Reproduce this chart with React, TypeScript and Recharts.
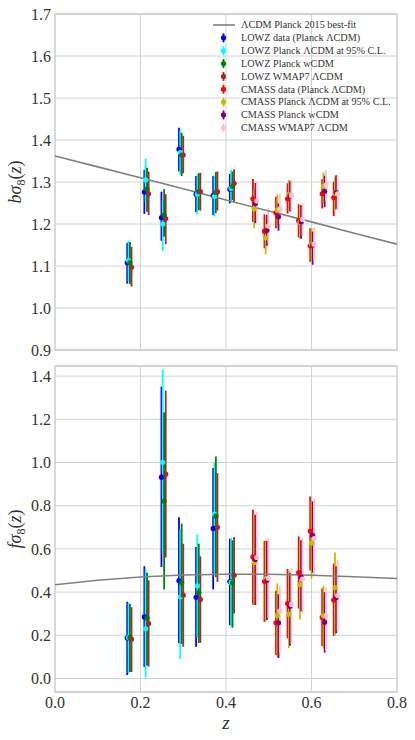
import React from "react";
import {
  ScatterChart,
  Scatter,
  XAxis,
  YAxis,
  CartesianGrid,
  ErrorBar,
  ReferenceArea,
  ReferenceLine,
} from "recharts";

const FONT = "Liberation Serif, Times New Roman, serif";
const GRID = "#d4d4d4";
const TEXT = "#333333";

const X_TICKS = [0, 0.2, 0.4, 0.6, 0.8];
const TOP_TICKS = [0.9, 1.0, 1.1, 1.2, 1.3, 1.4, 1.5, 1.6, 1.7];
const BOTTOM_TICKS = [0, 0.2, 0.4, 0.6, 0.8, 1.0, 1.2, 1.4];
const TOP_DOMAIN = [0.9, 1.7];
const BOTTOM_DOMAIN = [-0.0625, 1.447];

// Planck 2015 best-fit curves
const MODEL_Z = [0, 0.1, 0.2, 0.3, 0.4, 0.5, 0.6, 0.7, 0.8];
const MODEL_BS8 = [1.362, 1.336, 1.31, 1.284, 1.257, 1.231, 1.205, 1.178, 1.152];
const MODEL_FS8 = [0.434, 0.455, 0.47, 0.479, 0.483, 0.483, 0.478, 0.471, 0.463];

// redshift of each bin (first series of each sample)
const LOWZ_Z = [0.169, 0.209, 0.249, 0.29, 0.33, 0.37, 0.409];
const CMASS_Z = [0.463, 0.49, 0.517, 0.544, 0.57, 0.597, 0.625, 0.652];

// [value, lower, upper]
const LOWZ_DATA_B = [[1.108, 1.058, 1.155], [1.276, 1.224, 1.329], [1.215, 1.16, 1.277], [1.378, 1.325, 1.429], [1.271, 1.228, 1.314], [1.268, 1.221, 1.314], [1.283, 1.249, 1.319]];
const LOWZ_L95_B = [[1.113, 1.063, 1.16], [1.305, 1.253, 1.356], [1.2, 1.136, 1.257], [1.37, 1.318, 1.423], [1.271, 1.223, 1.318], [1.266, 1.218, 1.316], [1.285, 1.253, 1.329]];
const LOWZ_WCDM_B = [[1.108, 1.057, 1.157], [1.283, 1.229, 1.334], [1.221, 1.17, 1.283], [1.364, 1.314, 1.417], [1.277, 1.233, 1.321], [1.275, 1.226, 1.324], [1.289, 1.257, 1.325]];
const LOWZ_WMAP_B = [[1.097, 1.051, 1.146], [1.272, 1.221, 1.325], [1.213, 1.152, 1.271], [1.364, 1.321, 1.41], [1.277, 1.232, 1.322], [1.277, 1.232, 1.325], [1.297, 1.253, 1.33]];

const CMASS_DATA_B = [[1.26, 1.205, 1.307], [1.183, 1.142, 1.223], [1.227, 1.19, 1.265], [1.26, 1.225, 1.297], [1.208, 1.168, 1.247], [1.148, 1.11, 1.19], [1.272, 1.237, 1.307], [1.263, 1.219, 1.301]];
const CMASS_L95_B = [[1.236, 1.19, 1.283], [1.167, 1.128, 1.21], [1.233, 1.195, 1.27], [1.27, 1.233, 1.305], [1.204, 1.166, 1.245], [1.151, 1.113, 1.19], [1.289, 1.249, 1.323], [1.273, 1.232, 1.313]];
const CMASS_WCDM_B = [[1.249, 1.202, 1.298], [1.185, 1.148, 1.222], [1.217, 1.184, 1.249], [1.267, 1.23, 1.302], [1.205, 1.165, 1.245], [1.15, 1.103, 1.182], [1.278, 1.24, 1.315], [1.275, 1.236, 1.316]];
const CMASS_WMAP_B = [[1.255, 1.208, 1.3], [1.195, 1.155, 1.238], [1.236, 1.2, 1.272], [1.268, 1.23, 1.305], [1.211, 1.172, 1.25], [1.152, 1.112, 1.192], [1.293, 1.255, 1.328], [1.272, 1.232, 1.315]];

const LOWZ_DATA_F = [[0.188, 0.016, 0.355], [0.285, 0.053, 0.52], [0.932, 0.516, 1.351], [0.453, 0.163, 0.747], [0.376, 0.147, 0.609], [0.695, 0.413, 0.975], [0.449, 0.247, 0.647]];
const LOWZ_L95_F = [[0.19, 0.025, 0.35], [0.23, 0.004, 0.505], [1.001, 0.58, 1.43], [0.378, 0.09, 0.69], [0.429, 0.19, 0.666], [0.761, 0.48, 1.0], [0.445, 0.24, 0.65]];
const LOWZ_WCDM_F = [[0.19, 0.03, 0.345], [0.279, 0.06, 0.49], [0.821, 0.412, 1.232], [0.443, 0.16, 0.717], [0.398, 0.164, 0.624], [0.752, 0.47, 1.028], [0.443, 0.235, 0.64]];
const LOWZ_WMAP_F = [[0.182, 0.03, 0.33], [0.255, 0.055, 0.455], [0.946, 0.56, 1.333], [0.386, 0.147, 0.624], [0.366, 0.165, 0.566], [0.7, 0.447, 0.951], [0.478, 0.301, 0.655]];

const CMASS_DATA_F = [[0.563, 0.343, 0.781], [0.45, 0.262, 0.637], [0.258, 0.109, 0.406], [0.347, 0.186, 0.507], [0.49, 0.324, 0.658], [0.683, 0.5, 0.843], [0.283, 0.15, 0.417], [0.363, 0.198, 0.532]];
const CMASS_L95_F = [[0.537, 0.34, 0.76], [0.462, 0.27, 0.64], [0.292, 0.1, 0.44], [0.298, 0.141, 0.5], [0.435, 0.273, 0.64], [0.627, 0.463, 0.82], [0.29, 0.14, 0.43], [0.421, 0.2, 0.584]];
const CMASS_WCDM_F = [[0.551, 0.34, 0.758], [0.455, 0.27, 0.637], [0.258, 0.095, 0.39], [0.335, 0.152, 0.49], [0.47, 0.31, 0.64], [0.663, 0.49, 0.82], [0.261, 0.12, 0.4], [0.375, 0.21, 0.52]];
const CMASS_WMAP_F = [[0.56, 0.35, 0.77], [0.464, 0.28, 0.65], [0.313, 0.12, 0.43], [0.343, 0.16, 0.51], [0.46, 0.3, 0.65], [0.648, 0.48, 0.83], [0.29, 0.13, 0.42], [0.384, 0.22, 0.55]];

const SERIES = [
  { name: "LOWZ data (Planck ΛCDM)", color: "#0000ff", z: LOWZ_Z, shift: 0, b: LOWZ_DATA_B, f: LOWZ_DATA_F },
  { name: "LOWZ Planck ΛCDM at 95% C.L.", color: "#00ffff", z: LOWZ_Z, shift: 0.003, b: LOWZ_L95_B, f: LOWZ_L95_F },
  { name: "LOWZ Planck wCDM", color: "#008000", z: LOWZ_Z, shift: 0.0063, b: LOWZ_WCDM_B, f: LOWZ_WCDM_F },
  { name: "LOWZ WMAP7 ΛCDM", color: "#a52a2a", z: LOWZ_Z, shift: 0.01, b: LOWZ_WMAP_B, f: LOWZ_WMAP_F },
  { name: "CMASS data (Planck ΛCDM)", color: "#ff0000", z: CMASS_Z, shift: 0, b: CMASS_DATA_B, f: CMASS_DATA_F },
  { name: "CMASS Planck ΛCDM at 95% C.L.", color: "#bfbf00", z: CMASS_Z, shift: 0.003, b: CMASS_L95_B, f: CMASS_L95_F },
  { name: "CMASS Planck wCDM", color: "#800080", z: CMASS_Z, shift: 0.0058, b: CMASS_WCDM_B, f: CMASS_WCDM_F },
  { name: "CMASS WMAP7 ΛCDM", color: "#ffc0cb", z: CMASS_Z, shift: 0.009, b: CMASS_WMAP_B, f: CMASS_WMAP_F },
];

const toPoints = (zs: number[], shift: number, rows: number[][]) =>
  rows.map(([v, lo, hi], i) => ({ z: zs[i] + shift, v, err: [v - lo, hi - v] }));

const toModel = (vals: number[]) => MODEL_Z.map((z, i) => ({ z, v: vals[i] }));

const tickStyle = { fill: TEXT, fontSize: 16, fontFamily: FONT, style: { fontFamily: FONT } };

function Panel({ which, height, margin, domain, ticks, model, showX }: any) {
  return (
    <ScatterChart width={415} height={height} margin={margin}>
      <CartesianGrid stroke={GRID} strokeWidth={1} vertical={false} />
      {X_TICKS.map((t) => (
        <ReferenceLine key={t} x={t} stroke={GRID} strokeWidth={1} />
      ))}
      <ReferenceArea x1={0} x2={0.8} y1={domain[0]} y2={domain[1]} fill="none" stroke="#cccccc" strokeWidth={1.3} ifOverflow="visible" />
      <XAxis
        type="number"
        dataKey="z"
        domain={[0, 0.8]}
        ticks={X_TICKS}
        allowDataOverflow
        axisLine={false}
        tickLine={false}
        tickSize={0}
        tickMargin={5}
        height={showX ? 48 : 0}
        tick={showX ? tickStyle : () => <g />}
        tickFormatter={(v: number) => v.toFixed(1)}
      />
      <YAxis
        type="number"
        dataKey="v"
        domain={domain}
        ticks={ticks}
        allowDataOverflow
        axisLine={false}
        tickLine={false}
        tickSize={0}
        tickMargin={4}
        width={55}
        tick={tickStyle}
        tickFormatter={(v: number) => v.toFixed(1)}
      />
      <Scatter
        data={toModel(model)}
        line={{ stroke: "#808080", strokeWidth: 1.6 }}
        shape={() => <g />}
        isAnimationActive={false}
      />
      {SERIES.map((s) => (
        <Scatter
          key={s.name}
          data={toPoints(s.z, s.shift, s[which as "b" | "f"])}
          fill={s.color}
          shape={(p: any) => <circle cx={p.cx} cy={p.cy} r={2.6} fill={s.color} />}
          isAnimationActive={false}
        >
          <ErrorBar dataKey="err" direction="y" width={0} stroke={s.color} strokeWidth={1.8} isAnimationActive={false} />
        </Scatter>
      ))}
    </ScatterChart>
  );
}

function Legend() {
  const y0 = 25;
  const dy = 12.85;
  const textStyle = { fontFamily: FONT };
  return (
    <svg width={415} height={360} style={{ position: "absolute", left: 0, top: 0, pointerEvents: "none" }}>
      <line x1={213} x2={235} y1={y0} y2={y0} stroke="#808080" strokeWidth={1.6} />
      <text x={241} y={y0} dy="0.33em" fontSize={10.2} style={textStyle} fill={TEXT}>
        ΛCDM Planck 2015 best-fit
      </text>
      {SERIES.map((s, i) => {
        const y = y0 + dy * (i + 1);
        return (
          <g key={s.name}>
            <line x1={223.5} x2={223.5} y1={y - 4.5} y2={y + 4.5} stroke={s.color} strokeWidth={1.8} />
            <circle cx={223.5} cy={y} r={2.6} fill={s.color} />
            <text x={241} y={y} dy="0.33em" fontSize={10.2} style={textStyle} fill={TEXT}>
              {s.name}
            </text>
          </g>
        );
      })}
    </svg>
  );
}

const yLabelStyle: React.CSSProperties = {
  position: "absolute",
  left: 17,
  transform: "translate(-50%, -50%) rotate(-90deg)",
  fontFamily: FONT,
  fontSize: 18,
  color: TEXT,
  whiteSpace: "nowrap",
};

export default function App() {
  return (
    <div style={{ position: "absolute", left: 0, top: 0, width: 415, height: 740, background: "#fff" }}>
      <div style={{ position: "absolute", left: 0, top: 0 }}>
        <Panel
          which="b"
          height={360}
          margin={{ top: 14, right: 18, bottom: 10, left: 0 }}
          domain={TOP_DOMAIN}
          ticks={TOP_TICKS}
          model={MODEL_BS8}
          showX={false}
        />
      </div>
      <Legend />
      <div style={{ position: "absolute", left: 0, top: 360 }}>
        <Panel
          which="f"
          height={380}
          margin={{ top: 6, right: 18, bottom: 0, left: 0 }}
          domain={BOTTOM_DOMAIN}
          ticks={BOTTOM_TICKS}
          model={MODEL_FS8}
          showX
        />
      </div>
      <div style={{ ...yLabelStyle, top: 182 }}>
        <i>bσ</i>
        <sub style={{ fontSize: 12 }}>8</sub>(<i>z</i>)
      </div>
      <div style={{ ...yLabelStyle, top: 529 }}>
        <i>fσ</i>
        <sub style={{ fontSize: 12 }}>8</sub>(<i>z</i>)
      </div>
      <div
        style={{
          position: "absolute",
          left: 226,
          top: 723,
          transform: "translate(-50%, -50%)",
          fontFamily: FONT,
          fontSize: 19,
          fontStyle: "italic",
          color: TEXT,
        }}
      >
        z
      </div>
    </div>
  );
}
